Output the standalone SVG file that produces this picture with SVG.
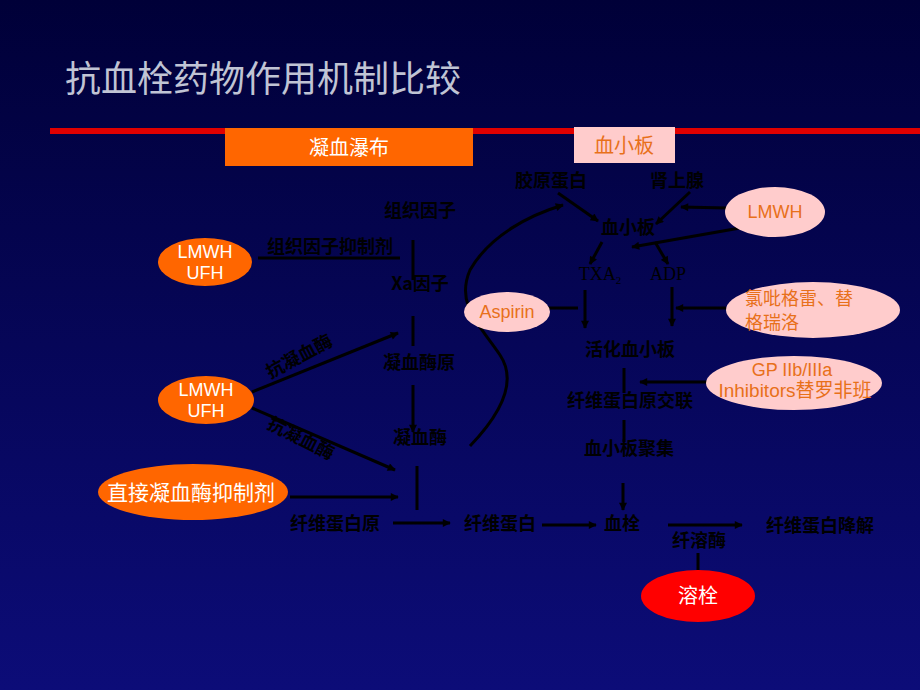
<svg xmlns="http://www.w3.org/2000/svg" width="920" height="690" viewBox="0 0 920 690">
<defs>
<linearGradient id="bg" x1="0" y1="0" x2="0" y2="1">
<stop offset="0" stop-color="#000038"/>
<stop offset="1" stop-color="#0c0c78"/>
</linearGradient>
<marker id="ah2" viewBox="0 0 10 10" refX="9" refY="5" markerWidth="10" markerHeight="8" orient="auto-start-reverse" markerUnits="userSpaceOnUse">
<path d="M0,0 L10,5 L0,10 z" fill="#000"/>
</marker>
<style>
.t{font-family:"Noto Sans CJK SC","Liberation Serif",serif;font-size:18px;font-weight:bold;fill:#000;text-anchor:middle}
.s{font-family:"Liberation Serif","Noto Sans CJK SC",serif;font-size:18px;fill:#000;text-anchor:middle}
.ln{stroke:#000;stroke-width:3;fill:none}
.ar{stroke:#000;stroke-width:3;fill:none;marker-end:url(#ah2)}
.org{fill:#ff6600}
.pink{fill:#ffcccc}
.wt{font-family:"Liberation Sans","Noto Sans CJK SC",sans-serif;font-size:18px;fill:#fff;text-anchor:middle}
.ot{font-family:"Liberation Sans","Noto Sans CJK SC",sans-serif;font-size:18px;fill:#e8701a}
.mid{text-anchor:middle}
</style>
</defs>
<rect width="920" height="690" fill="url(#bg)"/>
<g id="title">
<text x="65" y="92" font-family="Noto Sans CJK SC, sans-serif" font-size="36" fill="#c0c4d4">抗血栓药物作用机制比较</text>
<rect x="50" y="128" width="870" height="6" fill="#e00000"/>
</g>
<g id="hdr-coag">
<rect x="225" y="128" width="248" height="38" fill="#ff6600"/>
<text x="349" y="155" font-family="Noto Sans CJK SC, sans-serif" font-size="20" fill="#fff" text-anchor="middle">凝血瀑布</text>
</g>
<g id="hdr-plt">
<rect x="574" y="127" width="101" height="36" fill="#ffcccc"/>
<text x="624" y="153" font-family="Noto Sans CJK SC, sans-serif" font-size="20" fill="#e8701a" text-anchor="middle">血小板</text>
</g>

<g id="connectors">
<path class="ar" d="M470,446 C495,420 520,385 500,355 C480,325 455,305 470,270 C490,235 530,215 563,205"/>
<line class="ln" x1="258" y1="258" x2="400" y2="258"/>
<line class="ln" x1="413" y1="240" x2="413" y2="280"/>
<line class="ln" x1="413" y1="316" x2="413" y2="346"/>
<line class="ar" x1="413" y1="385" x2="413" y2="432"/>
<line class="ar" x1="252" y1="392" x2="398" y2="333"/>
<line class="ar" x1="252" y1="408" x2="395" y2="470"/>
<line class="ar" x1="290" y1="497" x2="398" y2="497"/>
<line class="ln" x1="417" y1="466" x2="417" y2="510"/>
<line class="ar" x1="393" y1="523" x2="450" y2="523"/>
<line class="ar" x1="542" y1="525" x2="596" y2="525"/>
<line class="ar" x1="623" y1="483" x2="623" y2="510"/>
<line class="ar" x1="668" y1="525" x2="742" y2="525"/>
<line class="ln" x1="698" y1="570" x2="698" y2="553"/>
<line class="ar" x1="558" y1="193" x2="598" y2="221"/>
<line class="ar" x1="690" y1="192" x2="656" y2="224"/>
<line class="ar" x1="727" y1="208" x2="681" y2="207"/>
<line class="ar" x1="740" y1="228" x2="632" y2="247"/>
<line class="ar" x1="602" y1="242" x2="590" y2="264"/>
<line class="ar" x1="655" y1="242" x2="668" y2="264"/>
<line class="ar" x1="585" y1="290" x2="585" y2="328"/>
<line class="ar" x1="672" y1="287" x2="672" y2="326"/>
<line class="ar" x1="726" y1="308" x2="676" y2="308"/>
<line class="ln" x1="548" y1="308" x2="578" y2="308"/>
<line class="ln" x1="624" y1="368" x2="624" y2="393"/>
<line class="ar" x1="708" y1="382" x2="640" y2="382"/>
<line class="ln" x1="624" y1="420" x2="624" y2="442"/>
</g>

<g id="labels">
<text class="t" x="420" y="217">组织因子</text>
<text class="t" x="330" y="253">组织因子抑制剂</text>
<text class="t" x="420" y="290">Xa因子</text>
<text class="t" x="419" y="369">凝血酶原</text>
<text class="t" x="420" y="444">凝血酶</text>
<text class="t" x="335" y="530">纤维蛋白原</text>
<text class="t" x="500" y="530">纤维蛋白</text>
<text class="t" x="622" y="530">血栓</text>
<text class="t" x="820" y="532">纤维蛋白降解</text>
<text class="t" x="699" y="547">纤溶酶</text>
<text class="t" x="551" y="187">胶原蛋白</text>
<text class="t" x="677" y="187">肾上腺</text>
<text class="t" x="628" y="234">血小板</text>
<text class="s" x="600" y="280">TXA<tspan font-size="11" dy="4">2</tspan></text>
<text class="s" x="668" y="280">ADP</text>
<text class="t" x="630" y="356">活化血小板</text>
<text class="t" x="630" y="407">纤维蛋白原交联</text>
<text class="t" x="629" y="455">血小板聚集</text>
<text class="t" x="0" y="0" transform="translate(302,362) rotate(-28)">抗凝血酶</text>
<text class="t" x="0" y="0" transform="translate(298,444) rotate(27)">抗凝血酶</text>
</g>

<g id="lmwh1">
<ellipse class="org" cx="205" cy="262" rx="47" ry="24"/>
<text class="wt" x="205" y="258">LMWH</text>
<text class="wt" x="205" y="279">UFH</text>
</g>
<g id="lmwh2">
<ellipse class="org" cx="206" cy="400" rx="48" ry="24"/>
<text class="wt" x="206" y="396">LMWH</text>
<text class="wt" x="206" y="417">UFH</text>
</g>
<g id="dti">
<ellipse class="org" cx="193" cy="492" rx="95" ry="28"/>
<text class="wt" x="191" y="500" style="font-size:21px">直接凝血酶抑制剂</text>
</g>
<g id="lysis">
<ellipse cx="698" cy="596" rx="57" ry="26" fill="#ff0000"/>
<text class="wt" x="698" y="603" style="font-size:20px">溶栓</text>
</g>
<g id="aspirin">
<ellipse class="pink" cx="507" cy="312" rx="43" ry="20"/>
<text class="ot mid" x="507" y="318">Aspirin</text>
</g>
<g id="lmwh3">
<ellipse class="pink" cx="775" cy="212" rx="50" ry="25"/>
<text class="ot mid" x="775" y="218">LMWH</text>
</g>
<g id="clop">
<ellipse class="pink" cx="813" cy="310" rx="87" ry="28"/>
<text class="ot" x="745" y="305">氯吡格雷、替</text>
<text class="ot" x="745" y="329">格瑞洛</text>
</g>
<g id="gp">
<ellipse class="pink" cx="794" cy="383" rx="88" ry="27"/>
<text class="ot mid" x="792" y="376">GP IIb/IIIa</text>
<text class="ot mid" x="795" y="397" style="font-size:19px">Inhibitors替罗非班</text>
</g>
</svg>
